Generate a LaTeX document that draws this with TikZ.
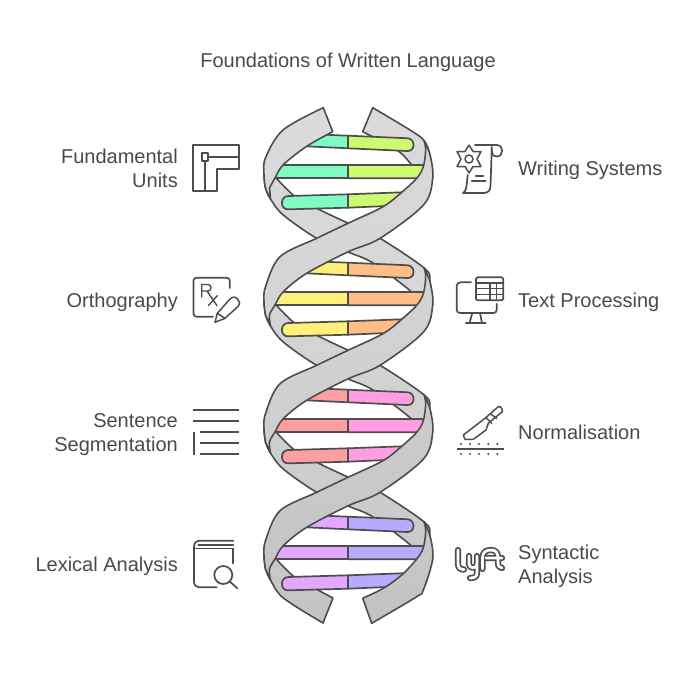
\documentclass[tikz,border=0pt]{standalone}
\usepackage{fontspec}
\setmainfont{Liberation Sans}
\definecolor{ink}{HTML}{4D4D4D}
\definecolor{txt}{HTML}{4A4A4A}
\definecolor{greenA}{HTML}{80FAC3}
\definecolor{limeA}{HTML}{CEFA72}
\definecolor{yellowA}{HTML}{FFF07C}
\definecolor{orangeA}{HTML}{FFBF84}
\definecolor{redA}{HTML}{FFA0A0}
\definecolor{pinkA}{HTML}{FF9EE0}
\definecolor{violetA}{HTML}{E2A8FF}
\definecolor{blueA}{HTML}{B9AAFF}
\tikzset{
  ribbon/.style={draw=ink,line width=1.6pt,line join=round},
  sm/.style={smooth,tension=0.55},
  barshape/.style={draw=ink,line width=1.7pt,line join=round},
  ico/.style={draw=ink,line width=1.7pt,line cap=round,line join=round},
  lab/.style={text=txt,inner sep=0pt,font=\fontsize{20}{24}\selectfont},
  lableft/.style={lab,anchor=east,align=right},
  labright/.style={lab,anchor=west,align=left},
  baseleft/.style={lab,anchor=base east},
  baseright/.style={lab,anchor=base west},
}
\newcommand\backS[2]{%
 \draw[ribbon,top color=#1,bottom color=#2] plot[sm] coordinates {(275,176.7)(293.3,195)(316.7,208.3)(348.3,223.3)(380,238.3)(425,268.7)(430,282)(432.7,305)}
 -- plot[sm] coordinates {(423,306)(411.7,292)(373,263)(348,252)(316.7,238.3)(283.3,215)(270.5,199)(265.5,188)(264,175)} -- cycle;}
\newcommand\frontS[2]{%
 \draw[ribbon,top color=#1,bottom color=#2] plot[sm] coordinates {(424,140.5)(430,155)(432.7,178)(423.5,205)(380,238.3)(348.3,251.7)(306.7,273.3)(283.3,291.7)(275,305)(269.5,315)(270.5,326)}
 -- plot[sm] coordinates {(265.5,315)(264,302)(265.5,286.7)(280,256.7)(316.7,238.3)(348,223.3)(383,206.7)(401.7,192.3)(416.7,178.3)(423.3,166.7)(425.7,150)(424,140.5)} -- cycle;}
\newcommand\barset[3]{%
 \begin{scope}[yshift=#1]
 \draw[barshape,fill=#2] (348,135.7) -- (327,134.8) -- (300,134) -- (300,146) -- (348,148.3) -- cycle;
 \draw[barshape,fill=#3] (348,135.7) [rounded corners=6pt] -- (413.5,138.5) -- (413.5,151.3) [sharp corners] -- (348,148.3) -- cycle;
 \draw[barshape,fill=#2] (348,165) -- (270,165) -- (270,178.3) -- (348,178.3) -- cycle;
 \draw[barshape,fill=#3] (348,165) [rounded corners=3pt] -- (425,165) -- (425,178.3) [sharp corners] -- (348,178.3) -- cycle;
 \draw[barshape,fill=#3] (348,194.3) -- (410,192) -- (410,205) -- (348,207.7) -- cycle;
 \draw[barshape,fill=#2] (348,194.3) [rounded corners=6pt] -- (282,196.2) -- (282,209.5) [sharp corners] -- (348,207.7) -- cycle;
 \end{scope}}
\begin{document}
\begin{tikzpicture}[x=1pt,y=-1pt]
\useasboundingbox (0,0) rectangle (696,672);
\fill[white] (0,0) rectangle (696,672);
% back ribbons
\draw[ribbon,top color=black!14,bottom color=black!15.5] plot[sm] coordinates {(372.7,107.7)(410,130)(424,140.5)(430,155)(432.7,178)}
 -- plot[sm] coordinates {(423,182)(411.7,165)(396.7,150)(362.7,131.7)} -- cycle;
\backS{black!15}{black!16}
\begin{scope}[yshift=-127pt]\backS{black!16.5}{black!18}\end{scope}
\begin{scope}[yshift=-254pt]\backS{black!19}{black!21}\end{scope}
\draw[ribbon,top color=black!21,bottom color=black!24] plot[sm] coordinates {(275,557.7)(293.3,576)(316.7,589.3)(333,598)}
 -- plot[sm] coordinates {(323,623)(283.3,598)(270.5,580)(265.5,569)(264,556)} -- cycle;
% bars
\barset{0pt}{greenA}{limeA}
\barset{-127pt}{yellowA}{orangeA}
\barset{-254pt}{redA}{pinkA}
\barset{-381pt}{violetA}{blueA}
% front ribbons
\draw[ribbon,top color=black!14,bottom color=black!15] plot[sm] coordinates {(323.3,107.7)(283,130)(265.5,158)(264,175)(265.5,188)(270.5,199)}
 -- plot[sm] coordinates {(269.5,188)(275,178)(283.3,164.7)(306.7,146.3)(332.7,131.7)} -- cycle;
\frontS{black!15}{black!17}
\begin{scope}[yshift=-127pt]\frontS{black!17}{black!19}\end{scope}
\begin{scope}[yshift=-254pt]\frontS{black!20}{black!23}\end{scope}
\draw[ribbon,top color=black!21,bottom color=black!24] plot[sm] coordinates {(424,521.5)(430,536)(432.7,559)(423.3,590)(416.7,596.7)(371.7,623.3)}
 -- plot[sm] coordinates {(362.7,598.3)(383.3,588.3)(401.7,575)(416.7,559)(423.3,547.7)(425.7,531)(424,521.5)} -- cycle;
% title and labels
\node[lab,anchor=base] (title) at (348,67) {Foundations of Written Language};
\node[lableft] (l1) at (178,168) {Fundamental\\Units};
\node[baseleft] (l2) at (178,307) {Orthography};
\node[lableft] (l3) at (178,435) {Sentence\\Segmentation};
\node[baseleft] (l4) at (178,571) {Lexical Analysis};
\node[baseright] (r1) at (518,175) {Writing Systems};
\node[baseright] (r2) at (518,307) {Text Processing};
\node[baseright] (r3) at (518,439) {Normalisation};
\node[labright] (r4) at (518,566) {Syntactic\\Analysis};
% icon 1
\draw[ico,line cap=butt] (193.3,145) -- (238.7,145) -- (238.7,169.3) -- (216.7,169.3) -- (216.7,190.7) -- (193.3,190.7) -- cycle;
\draw[ico,line cap=butt] (201.7,153.3) rectangle (208.3,160.7);
\draw[ico,line cap=butt] (208.3,156.7) -- (238.7,156.7) (205,160.7) -- (205,190.7);
% icon 2
\draw[ico] (229.7,288) -- (229.7,281) [rounded corners=3pt] -- (229.7,277.7) -- (193.5,277.7) -- (193.5,316.7) [sharp corners] -- (213,316.7);
\draw[ico,line width=1.4pt] (201.7,297) -- (201.7,284.5) -- (208,284.5) .. controls (212,284.5) and (212,291) .. (208,291) -- (201.7,291) (207,291) -- (217,305.7) (208.3,305.7) -- (217.3,295.7);
\draw[ico,line width=1.5pt] (215,322.3) -- (217.3,313.3) -- (230,299) .. controls (233,296) and (236,297) .. (238,299.5) .. controls (240,302) and (240,304) .. (238.5,306) -- (225,318.3) -- cycle (217.3,313.3) -- (225,318.3);
% icon 3
\draw[ico,line cap=butt] (193.3,410) -- (238.7,410) (193.3,421) -- (238.7,421) (200,432) -- (238.7,432) (200,443) -- (238.7,443) (200,454) -- (238.7,454) (193.8,431.5) -- (193.8,454.5);
% icon 4
\draw[ico] (233.3,540.7) -- (200,540.7) .. controls (196,540.7) and (194,543) .. (194,547) -- (194,581.7) .. controls (194,585) and (196,587.3) .. (199,587.3) -- (216.7,587.3);
\draw[ico] (198.3,545) -- (233.3,545);
\draw[ico] (195,548.6) -- (233.3,548.6) -- (233.3,563.3);
\draw[ico] (223.3,575) circle[radius=9pt];
\draw[ico] (230,581.7) -- (237.3,588.3);
% icon 5
\draw[ico,line width=1.5pt] (469,145) -- (473,151.5) -- (481,151.5) -- (477,159) -- (481,166.5) -- (473,166.5) -- (469,173) -- (465,166.5) -- (457,166.5) -- (461,159) -- (457,151.5) -- (465,151.5) -- cycle;
\draw[ico,line width=1.5pt] (469,159) circle[radius=4pt];
\draw[ico] (475,145) -- (496.7,145) .. controls (504,145) and (504,156.5) .. (496.7,156.5) .. controls (492,156.5) and (491.5,152) .. (491.7,149) -- (491.7,147);
\draw[ico] (491.7,150) -- (490.5,186) .. controls (490.5,190) and (488,193) .. (484,193) -- (463,193) .. controls (466,191) and (466,188) .. (466.5,186) -- (467.7,175);
\draw[ico] (475.7,175.7) -- (483.3,175.7) (471.7,181) -- (485.7,181);
% icon 6
\draw[ico] (471,282.3) -- (460.5,282.3) .. controls (458,282.3) and (456.7,284) .. (456.7,286) -- (456.7,309.7) .. controls (456.7,312) and (458,313) .. (460.5,313) -- (493.3,313) .. controls (495.5,313) and (496.7,312) .. (496.7,309.7) -- (496.7,304);
\draw[ico] (472.3,313) -- (469.5,323) (480,313) -- (482,323) (465.7,323) -- (485.7,323);
\draw[ico,rounded corners=1.5pt] (476,277.3) rectangle (503.3,300.3);
\draw[ico,line cap=butt,line width=1.5pt] (476,283) -- (503.3,283) (476,288.7) -- (503.3,288.7) (476,294.7) -- (503.3,294.7) (490,283) -- (490,300.3) (496.7,283) -- (496.7,300.3);
% icon 7
\draw[ico,line width=1.5pt] (463.3,435) -- (485,418.3) -- (498.3,406.7) .. controls (500,405.5) and (503,409) .. (502.3,411.7) -- (488.3,423.3) -- (486,430) -- (473.3,439.3) -- (465,439.3) -- cycle (486.7,418.3) -- (491.7,423.3) (491.5,414.5) -- (496.5,418.5);
\draw[ico,line cap=butt] (456.7,448.7) -- (503.7,448.7);
\foreach \dx in {461,470,479,488.3,497.3}{\fill[ink] (\dx,444) circle[radius=1.2pt]; \fill[ink] (\dx,454) circle[radius=1.2pt];}
% icon 8
\foreach \wd/\cc in {6.2pt/ink,2.8pt/white}{
\draw[line width=\wd,draw=\cc,line cap=round,line join=round] (458,550) -- (458,563) .. controls (458,568) and (460,569.5) .. (464,569.5);
\draw[line width=\wd,draw=\cc,line cap=round,line join=round] (469,556) -- (469,564) .. controls (469,569) and (477,569) .. (477,564) (477,556) -- (477,573) .. controls (477,577) and (474,578) .. (470,578);
\draw[line width=\wd,draw=\cc,line cap=round,line join=round] (482.5,569) -- (482.5,558) .. controls (482.5,552) and (486,550) .. (491,550) .. controls (496,550) and (498,553) .. (498,558) -- (498,562) .. controls (498,566) and (499,568) .. (502,568) (486,558) -- (502,558);
}
\end{tikzpicture}
\end{document}
